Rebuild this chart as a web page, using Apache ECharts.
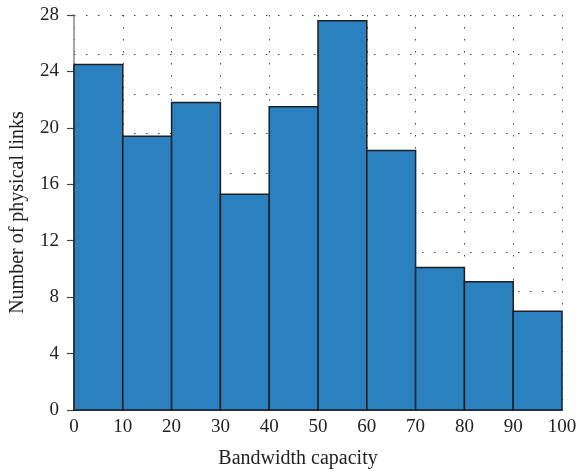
<!DOCTYPE html>
<html>
<head>
<meta charset="utf-8">
<script src="https://cdn.jsdelivr.net/npm/echarts@6/dist/echarts.min.js"></script>
<style>
  html, body { margin: 0; padding: 0; background: #fff; }
  #main { width: 579px; height: 471px; }
</style>
</head>
<body>
<div id="main"></div>
<script>
// bin edges (bandwidth capacity) and counts per bin
var binStart = [0, 10, 20, 30, 40, 50, 60, 70, 80, 90]
var binEnd = [10, 20, 30, 40, 50, 60, 70, 80, 90, 100]
var counts = [24.5, 19.4, 21.8, 15.3, 21.5, 27.6, 18.4, 10.1, 9.1, 7.0]
var yTicks = [0, 4, 8, 12, 16, 20, 24, 28]

var myChart = echarts.init(document.getElementById('main'))

var data = counts.map(function (v, i) {
  return [binStart[i], binEnd[i], v]
})

var serif = '"Liberation Serif", "DejaVu Serif", serif'
var dotted = { color: '#444', width: 1, type: [1.5, 10.5] }

var option = {
  animation: false,
  backgroundColor: '#fff',
  grid: { left: 74, right: 17, top: 15, bottom: 61, outerBoundsMode: 'none', containLabel: false },
  xAxis: {
    type: 'value',
    min: 0,
    max: 100,
    interval: 10,
    name: 'Bandwidth capacity',
    nameLocation: 'middle',
    nameGap: 39,
    nameTextStyle: { fontFamily: serif, fontSize: 20, color: '#222', padding: [0, 40, 0, 0] },
    axisLine: { show: true, lineStyle: { color: '#222', width: 1.5 } },
    axisTick: { show: false },
    axisLabel: { fontFamily: serif, fontSize: 19, color: '#222', margin: 8 },
    splitLine: { show: true, lineStyle: dotted }
  },
  yAxis: [
    {
      type: 'value',
      min: 0,
      max: 28,
      interval: 4,
      name: 'Number of physical links',
      nameLocation: 'middle',
      nameGap: 46,
      nameTextStyle: { fontFamily: serif, fontSize: 20, color: '#222' },
      axisLine: { show: true, lineStyle: { color: '#888', width: 1.5 } },
      axisTick: { show: true, inside: false, length: 7, lineStyle: { color: '#444', width: 1.2 } },
      axisLabel: {
        fontFamily: serif, fontSize: 19, color: '#222', margin: 15,
        formatter: function (v) { return yTicks.indexOf(v) >= 0 ? String(v) : '' }
      },
      splitLine: { show: false }
    },
    {
      // separate 10x10 dotted background grid
      type: 'value',
      min: 0,
      max: 28,
      interval: 2.8,
      position: 'left',
      axisLine: { show: false },
      axisTick: { show: false },
      axisLabel: { show: false },
      splitLine: { show: true, lineStyle: dotted }
    }
  ],
  series: [
    {
      type: 'custom',
      yAxisIndex: 0,
      data: data,
      encode: { x: [0, 1], y: 2 },
      renderItem: function (params, api) {
        var p0 = api.coord([api.value(0), 0])
        var p1 = api.coord([api.value(1), api.value(2)])
        return {
          type: 'rect',
          shape: { x: p0[0], y: p1[1], width: p1[0] - p0[0], height: p0[1] - p1[1] },
          style: { fill: '#2b81c0', stroke: '#1b1f24', lineWidth: 1.5 }
        }
      }
    }
  ]
}

myChart.setOption(option)
</script>
</body>
</html>
